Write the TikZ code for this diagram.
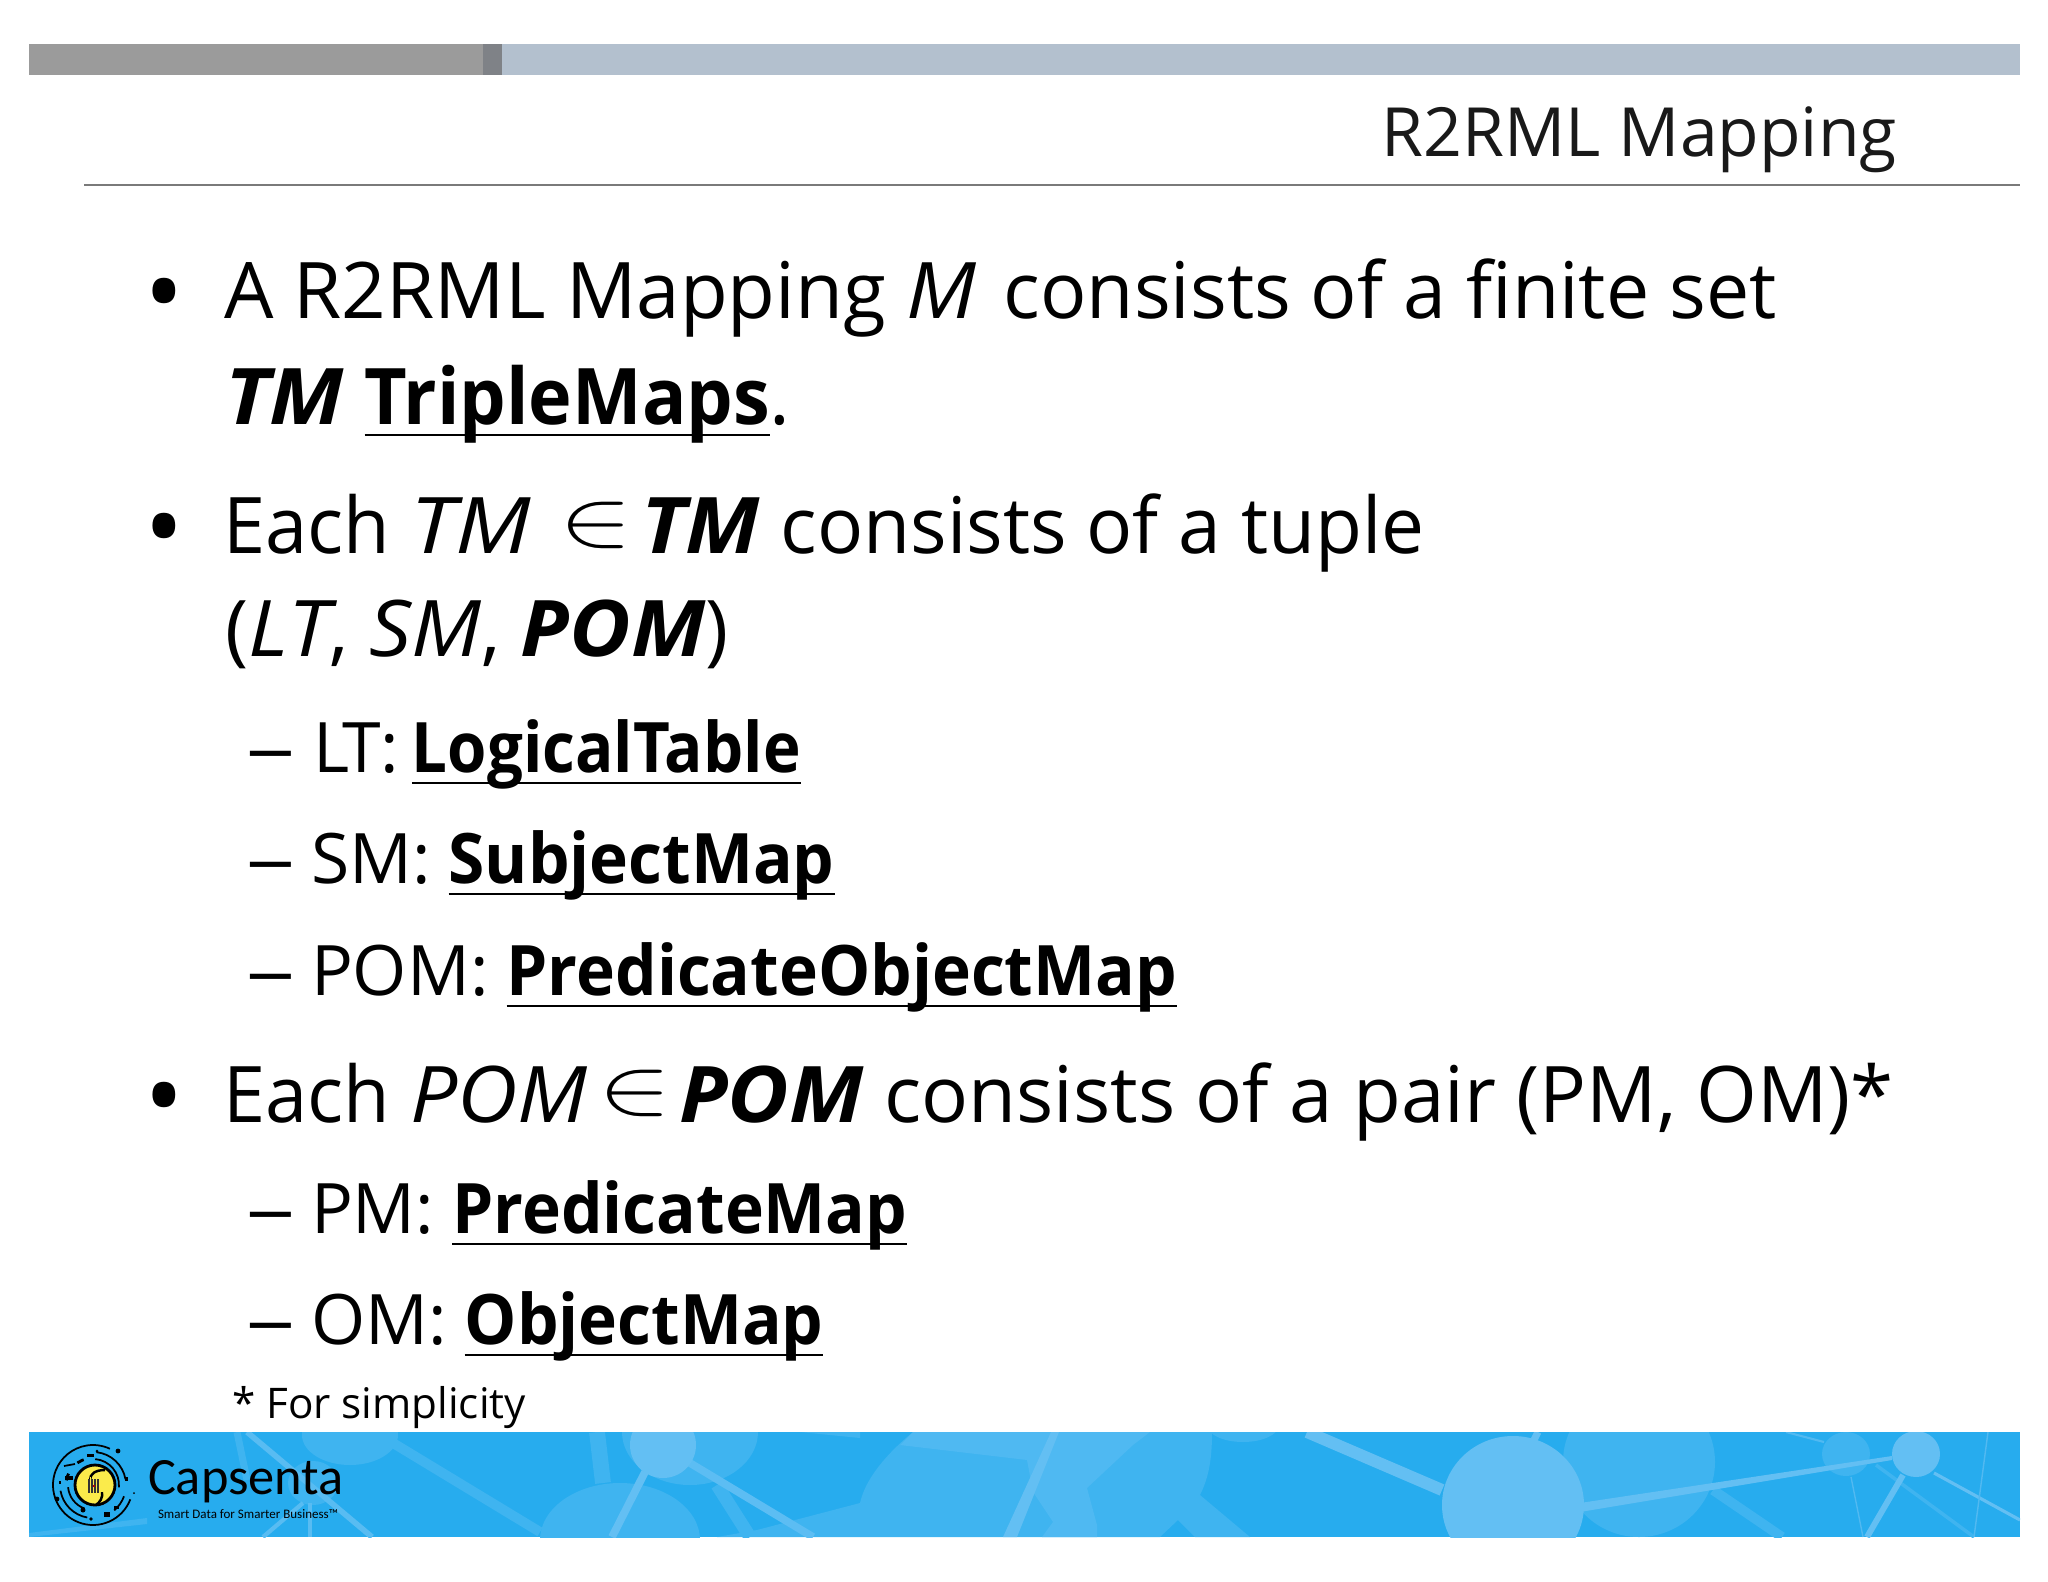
\documentclass[tikz,border=0pt]{standalone}
\usepackage{fontspec}
\setmainfont{Open Sans}[BoldFeatures={FakeStretch=0.945}, ItalicFeatures={FakeStretch=1.07}, BoldItalicFeatures={FakeStretch=1.08}]
\newfontfamily\logofont{Carlito}
\definecolor{bandblue}{HTML}{27ACEE}
\definecolor{bandmid}{HTML}{3FB4F0}
\definecolor{bandpale}{HTML}{4FB9F2}
\definecolor{bandlight}{HTML}{63BFF3}
\definecolor{bargray}{HTML}{9B9B9B}
\definecolor{bardark}{HTML}{7F8287}
\definecolor{barblue}{HTML}{B3C0CE}
\definecolor{rulegray}{HTML}{7A7A7A}
\definecolor{discyellow}{HTML}{FBEB4B}
\newcommand{\ultext}[1]{\setbox0\hbox{#1}\rlap{\rule[-3.5pt]{\wd0}{0.7pt}}\box0}
\newcommand{\elemsign}{\fontsize{21.5}{26}\selectfont\scalebox{1.5}[1.1]{$\in$}}
\newcommand{\longdash}{\scalebox{1.4}[1]{–}}
\newcommand{\squeezed}[2]{\scalebox{#1}[1]{#2}}
\tikzset{
  every node/.style={inner sep=0pt, outer sep=0pt, anchor=base west},
  title/.style={font=\fontsize{19.3}{23}\selectfont, text=black!90, anchor=base east},
  level one/.style={font=\fontsize{22.2}{26}\selectfont},
  level two/.style={font=\fontsize{19.8}{24}\selectfont},
  bullet mark/.style={font=\fontsize{30}{36}\selectfont},
  note/.style={font=\fontsize{12}{14}\selectfont}
}
\begin{document}
\begin{tikzpicture}[x=0.01cm, y=-0.01cm]
\useasboundingbox (0,0) rectangle (2048,1582);

% top bars
\fill[bargray] (29,44) rectangle (483,75);
\fill[bardark] (483,44) rectangle (502,75);
\fill[barblue] (502,44) rectangle (2020,75);
\fill[rulegray] (84,184) rectangle (2020,186);
\node[title] (titletext) at (1897,157) {R2RML Mapping};

% first bullet
\node[bullet mark] (bulleta) at (144,329) {•};
\node[level one] (linea) at (224,318) {A R2RML Mapping \textit{M}\kern1.9pt{} \squeezed{0.987}{consists of a finite set}};
\node[level one] (lineb) at (225,424) {\textbf{\textit{TM}} \ultext{\textbf{TripleMaps}}.};

% second bullet
\node[bullet mark] (bulletb) at (144,564) {•};
\node[level one] (linec) at (223,553) {\squeezed{0.97}{Each} \squeezed{1.08}{\textit{TM}}};
\node[level one] (elema) at (559,545) {\elemsign};
\node[level one] (lined) at (641,553) {\textbf{\textit{TM}} \squeezed{0.982}{consists of a tuple}};
\node[level one] (linee) at (225,656) {(\textit{LT}, \textit{SM}, \textbf{\textit{POM}})};

\node[level two] (dasha) at (246,772) {\longdash};
\node[level two] (linef) at (313,772) {L\kern-2ptT:\kern-1.5pt{} \squeezed{0.967}{\ultext{\textbf{LogicalTable}}}};
\node[level two] (dashb) at (246,883) {\longdash};
\node[level two] (lineg) at (311,883) {SM: \ultext{\textbf{SubjectMap}}};
\node[level two] (dashc) at (246,995) {\longdash};
\node[level two] (lineh) at (311,995) {POM: \ultext{\textbf{PredicateObjectMap}}};

% third bullet
\node[bullet mark] (bulletc) at (144,1133) {•};
\node[level one] (linei) at (223,1122) {\squeezed{0.97}{Each} \textit{POM}};
\node[level one] (elemb) at (598,1113) {\elemsign};
\node[level one] (linej) at (679,1122) {\textbf{\textit{POM}} consists of a pair (PM, OM)*};

\node[level two] (dashd) at (246,1233) {\longdash};
\node[level two] (linek) at (311,1233) {PM: \ultext{\textbf{PredicateMap}}};
\node[level two] (dashe) at (246,1344) {\longdash};
\node[level two] (linel) at (311,1344) {OM: \ultext{\textbf{ObjectMap}}};

\node[note] (notetext) at (232,1418) {* For simplicity};

% footer band
\begin{scope}
\clip (29,1432) rectangle (2020,1537);
\fill[bandblue] (29,1432) rectangle (2020,1537);
% darker shapes
\fill[bandmid] (913,1432) .. controls (885,1455) and (865,1480) .. (860,1503) -- (757,1530) -- (717,1537) -- (1160,1537) -- (1178,1520) -- (1195,1537) -- (1250,1537) -- (1200,1495) .. controls (1210,1475) and (1212,1455) .. (1212,1432) -- cycle;
\fill[bandmid] (800,1432) -- (860,1438) -- (860,1432) -- cycle;
\fill[bandmid] (1243,1425) ellipse (36 and 17);
\fill[bandmid] (690,1432) ellipse (68 and 53);
\fill[bandmid] (620,1540) ellipse (80 and 57);
\fill[bandmid] (350,1435) ellipse (48 and 30);
\fill[bandmid] (313,1483) ellipse (25 and 22);
\fill[bandmid] (1639,1462) ellipse (76 and 75);
\fill[bandmid] (1846,1454) ellipse (24 and 22);
\draw[bandmid, line width=2.8pt] (393,1443) -- (540,1532);
\draw[bandmid, line width=4.5pt] (597,1432) -- (603,1483);
\draw[bandmid, line width=3.7pt] (717,1485) -- (750,1537);
\draw[bandmid, line width=2.8pt] (1713,1490) -- (1782,1537);
\draw[bandmid, line width=1pt] (1876,1465) -- (1974,1537);
\fill[bandmid] (29,1533) -- (147,1518) -- (147,1524) -- (29,1537) -- cycle;
\draw[bandmid, line width=2pt] (237,1432) -- (247,1480);
% paler shapes
\fill[bandpale] (913,1432) -- (900,1445) -- (1027,1460) -- (1033,1492) -- (1053,1522) -- (1042,1537) -- (1097,1537) -- (1097,1525) -- (1087,1488) -- (1133,1445) -- (1150,1432) -- cycle;
% lighter shapes
\draw[bandlight!70!bandmid, line width=1.6pt] (247,1432) -- (372,1537);
\draw[bandlight!70!bandmid, line width=1.2pt] (263,1537) -- (303,1503);
\draw[bandlight!70!bandmid, line width=1pt] (310,1503) -- (310,1537);
\draw[bandlight, line width=2.2pt] (645,1472) -- (612,1537);
\draw[bandlight!80!bandmid, line width=2.2pt] (690,1463) -- (813,1537);
\fill[bandlight] (663,1445) ellipse (33 and 33);
\fill[bandlight] (1051,1432) -- (1059,1432) -- (1017,1537) -- (1003,1537) -- cycle;
\draw[bandlight, line width=3.4pt] (1307,1432) -- (1442,1490);
\draw[bandlight, line width=2pt] (1538,1432) -- (1534,1440);
\fill[bandlight] (1513,1505) ellipse (71 and 69);
\fill[bandlight] (1580,1503) -- (1892,1456) -- (1892,1460) -- (1580,1512) -- cycle;
\fill[bandlight] (1916,1454) ellipse (24 and 23);
\draw[bandlight, line width=1.7pt] (1903,1475) -- (1867,1537);
\draw[bandlight, line width=0.9pt] (1934,1473) -- (2020,1520);
\draw[bandmid!50!bandlight, line width=0.4pt] (1988,1432) -- (1974,1537);
\draw[bandmid!50!bandlight, line width=0.4pt] (1851,1477) -- (1863,1537);
\draw[bandmid!50!bandlight, line width=0.6pt] (1786,1432) -- (1824,1442);
\end{scope}

% logo
\draw[black, line width=0.5pt] (93,1485) ++(21:40) arc (21:295:40);
\draw[black, line width=0.5pt] (93,1485) ++(276:33) arc (276:350:33);
\draw[black, line width=0.5pt] (93,1485) ++(100:33) arc (100:170:33);
\draw[black, line width=0.5pt] (93,1485) ++(275:26) arc (275:365:26);
\draw[black, line width=0.5pt] (93,1485) ++(110:25) arc (110:175:25);
\draw[black, line width=0.5pt] (93,1485) ++(20:33) arc (20:50:33);
\draw[black, line width=0.8pt, dash pattern=on 2pt off 4pt] (93,1485) ++(190:27) arc (190:265:27);
\fill[discyellow, draw=black, line width=0.8pt] (95,1485) circle (20);
\draw[black, line width=0.7pt] (105,1470) .. controls (95,1470) and (90,1474) .. (90,1480);
\draw[black, line width=0.7pt] (102,1492) .. controls (103,1498) and (100,1502) .. (96,1505);
\fill[black!80] (88,1479) rectangle (99.5,1493);
\draw[step=3, color=discyellow, line width=0.25pt] (87,1477) grid (100,1495);
\fill[red!70!black] (93,1485) rectangle (95,1487);
\fill[black] (118,1451) circle (2.4);
\fill[black] (57,1499) circle (2.4);
\fill[black] (83,1510) circle (2.5);
\fill[black] (97,1451) circle (1.5);
\fill[black] (91,1519) circle (1.8);
\fill[black] (134,1493) circle (1);
\fill[black] (87,1454) rectangle (94,1457);
\fill[black] (65,1476) rectangle (73,1480);
\fill[black] (104,1512) rectangle (110,1517);
\fill[black] (114,1506) rectangle (119,1509);
\fill[black] (125,1477) rectangle (128,1481);
\fill[black] (59,1481) rectangle (61,1484);
\draw[black, line width=0.5pt] (64,1466) -- (75,1464);
\node[font=\logofont\fontsize{14.9}{17}\selectfont] (logoname) at (148,1494) {Capsenta};
\node[font=\logofont\fontsize{3.7}{5}\selectfont] (logotag) at (158,1518) {Smart Data for Smarter Business™};
\end{tikzpicture}
\end{document}
